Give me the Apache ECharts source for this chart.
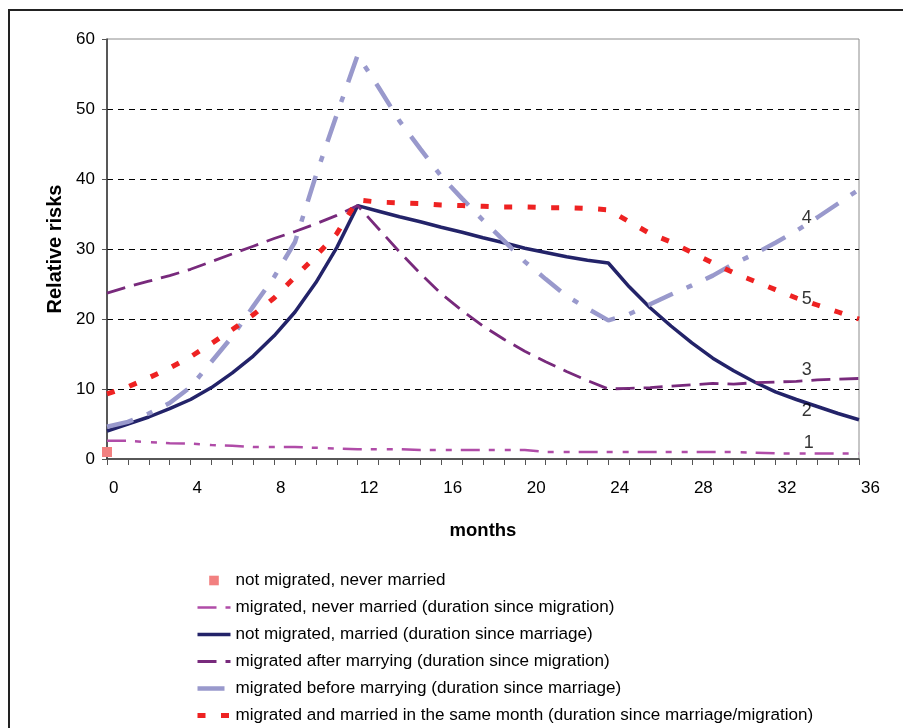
<!DOCTYPE html>
<html>
<head>
<meta charset="utf-8">
<script src="https://cdn.jsdelivr.net/npm/echarts@6/dist/echarts.min.js"></script>
<style>
html,body{margin:0;padding:0;background:#fff;}
#chart{width:903px;height:728px;}
</style>
</head>
<body>
<div id="chart"></div>
<script>
// ---- data ----
var months = [0,1,2,3,4,5,6,7,8,9,10,11,12,13,14,15,16,17,18,19,20,21,22,23,24,25,26,27,28,29,30,31,32,33,34,35,36];
var seriesNames = [
  'not migrated, never married',
  'migrated, never married (duration since migration)',
  'not migrated, married (duration since marriage)',
  'migrated after marrying (duration since migration)',
  'migrated before marrying (duration since marriage)',
  'migrated and married in the same month (duration since marriage/migration)'
];
var notMigratedNeverMarried = [1.0]; // reference value at month 0
var migratedNeverMarried = [2.6,2.6,2.4,2.25,2.2,2.0,1.9,1.7,1.7,1.7,1.6,1.5,1.4,1.4,1.4,1.3,1.3,1.3,1.3,1.3,1.3,1.0,1.0,1.0,1.0,1.0,1.0,1.0,1.0,1.0,1.0,0.9,0.8,0.8,0.8,0.8,0.8];
var notMigratedMarried = [4.0,5.0,6.0,7.2,8.5,10.2,12.3,14.7,17.6,21.0,25.2,30.2,36.2,35.4,34.6,33.9,33.1,32.4,31.6,30.9,30.1,29.5,28.9,28.4,28.0,24.6,21.6,19.0,16.6,14.4,12.6,11.0,9.6,8.5,7.5,6.5,5.6];
var migratedAfterMarrying = [23.7,24.6,25.4,26.2,27.1,28.2,29.3,30.4,31.5,32.5,33.6,34.8,36.2,32.9,29.6,26.5,23.6,21.2,19.0,17.1,15.4,13.9,12.5,11.2,10.0,10.1,10.2,10.4,10.6,10.8,10.7,10.9,11.0,11.1,11.3,11.4,11.5];
var migratedBeforeMarrying = [4.6,5.3,6.5,8.0,10.3,13.9,17.5,21.8,26.0,31.0,40.5,49.2,57.7,53.1,48.3,44.3,40.4,37.2,34.1,31.2,28.2,25.7,23.3,21.5,19.8,20.7,22.1,23.5,24.8,26.2,27.9,29.3,30.9,32.6,34.5,36.5,38.5];
var migratedMarriedSameMonth = [9.3,10.3,11.6,13.0,14.6,16.5,18.5,20.6,23.0,26.0,29.0,32.2,37.0,36.7,36.6,36.5,36.3,36.2,36.1,36.0,36.0,35.9,35.9,35.8,35.6,33.9,32.2,31.0,29.5,28.0,26.6,25.4,24.2,23.0,22.0,21.0,20.0];
var xTickLabels = ['0','4','8','12','16','20','24','28','32','36'];
var yTickLabels = ['0','10','20','30','40','50','60'];
// curve number annotations (data space)
var curveLabels = ['1','2','3','4','5'];
var curveLabelMonth = [33.6,33.5,33.5,33.5,33.5];
var curveLabelValue = [2.3,6.9,12.7,34.4,22.9];

function pairs(vals){ return vals.map(function(v,i){ return [months[i], v]; }); }

var FONT = '"Liberation Sans", Arial, sans-serif';
var colors = ['#F28080','#B04CA8','#232369','#782A7C','#9999CC','#EE2222'];
var widths = [0, 2.5, 3.5, 2.8, 4.5, 5];
var dashes = ['solid', [19,9,6,10,6,9], 'solid', [19,9], [27,15,6,15], [8,15.5]];

var chart = echarts.init(document.getElementById('chart'), null, {renderer:'canvas'});

var seriesValues = [notMigratedNeverMarried, migratedNeverMarried, notMigratedMarried, migratedAfterMarrying, migratedBeforeMarrying, migratedMarriedSameMonth];
var lineSeries = seriesNames.map(function(name, k){
  return {
    name: name, type: 'line', data: pairs(seriesValues[k]),
    symbol: k === 0 ? 'rect' : 'none', symbolSize: 10, showSymbol: k === 0,
    itemStyle: { color: colors[k] },
    lineStyle: { color: colors[k], width: widths[k], type: dashes[k], cap: 'butt' },
    z: 3 + k
  };
});

var option = {
  animation: false,
  backgroundColor: '#fff',
  textStyle: { fontFamily: FONT },
  graphic: [{
    type: 'rect', silent: true, z: -10,
    shape: { x: 9, y: 10, width: 1000, height: 1000 },
    style: { fill: 'none', stroke: '#222', lineWidth: 2 }
  }],
  grid: { left: 107, right: 44, top: 39, bottom: 269, show: true, borderColor: '#8c8c8c', borderWidth: 1, backgroundColor: '#fff' },
  legend: {
    orient: 'vertical', left: 195, top: 572, padding: 0,
    itemWidth: 33, itemHeight: 12, itemGap: 10,
    selectedMode: false,
    itemStyle: { opacity: 0 },
    textStyle: { fontSize: 17.1, color: '#000', fontFamily: FONT },
    data: seriesNames.map(function(name, k){
      return {
        name: name,
        itemStyle: { opacity: k === 0 ? 1 : 0 },
        lineStyle: { width: widths[k], type: dashes[k], color: colors[k], opacity: k === 0 ? 0 : 1 }
      };
    })
  },
  xAxis: {
    type: 'value', min: 0, max: 36, interval: 4,
    name: 'months', nameLocation: 'middle', nameGap: 62,
    nameTextStyle: { fontWeight: 'bold', fontSize: 18.5, color: '#000', fontFamily: FONT },
    axisLine: { show: true, onZero: false, lineStyle: { color: '#333', width: 1.5 } },
    axisTick: { show: true, length: 6, lineStyle: { color: '#555' } },
    minorTick: { show: true, splitNumber: 4, length: 6, lineStyle: { color: '#555' } },
    axisLabel: { fontSize: 17, color: '#000', align: 'left', margin: 21, padding: [0,0,0,2],
      formatter: function(v){ var i = xTickLabels.indexOf(String(v)); return i >= 0 ? xTickLabels[i] : ''; } },
    splitLine: { show: false }
  },
  yAxis: {
    type: 'value', min: 0, max: 60, interval: 10,
    name: 'Relative risks', nameLocation: 'middle', nameGap: 41, nameRotate: 90,
    nameTextStyle: { fontWeight: 'bold', fontSize: 20, color: '#000', fontFamily: FONT },
    axisLine: { show: true, lineStyle: { color: '#333', width: 1.5 } },
    axisTick: { show: true, length: 5, lineStyle: { color: '#555' } },
    axisLabel: { fontSize: 17, color: '#000', margin: 12,
      formatter: function(v){ var i = yTickLabels.indexOf(String(v)); return i >= 0 ? yTickLabels[i] : ''; } },
    splitLine: { show: true, lineStyle: { color: ['transparent','#000','#000','#000','#000','#000','transparent'], type: [6,5], width: 1 } }
  },
  series: lineSeries.concat([
    {
      name: 'curve numbers', type: 'scatter', silent: true, z: 9,
      data: curveLabels.map(function(t,i){ return { name: t, value: [curveLabelMonth[i], curveLabelValue[i]] }; }),
      symbolSize: 1, itemStyle: { color: 'transparent' },
      label: { show: true, position: 'inside', formatter: '{b}', fontSize: 18, color: '#000', fontFamily: FONT }
    }
  ])
};
chart.setOption(option);
</script>
</body>
</html>
